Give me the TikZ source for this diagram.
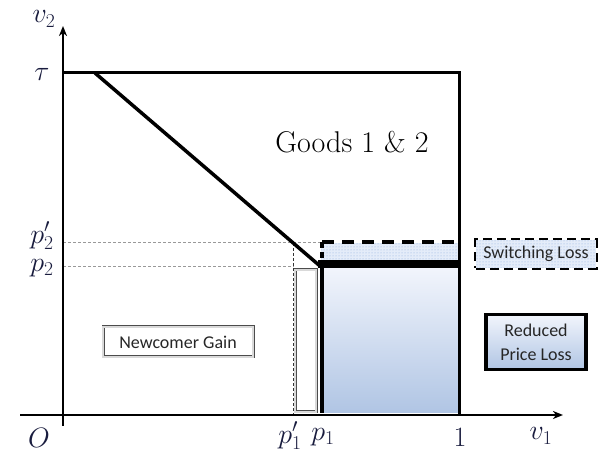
\documentclass[tikz,border=0pt]{standalone}
\usepackage{fix-cm}
\usepackage{fontspec}
\usetikzlibrary{arrows.meta,patterns}
\newfontfamily\calib{Carlito}
\definecolor{labc}{RGB}{25,28,62}
\definecolor{dotc}{RGB}{228,236,249}
\definecolor{dotp}{RGB}{140,172,222}
\definecolor{gtop}{RGB}{242,245,252}
\definecolor{gbot}{RGB}{176,197,228}
\tikzset{
  lab/.style={text=labc, font=\fontsize{28}{32}\selectfont, inner sep=0pt, anchor=center},
  axisline/.style={line width=2pt, -{Stealth[length=10pt,width=8pt,inset=3pt]}},
  frame/.style={line width=3pt},
  guide/.style={draw=gray!80, line width=0.8pt, dash pattern=on 3pt off 2pt},
  guidedark/.style={draw=black!80, line width=0.9pt, dash pattern=on 3pt off 2pt},
  legend/.style={font=\calib\fontsize{18}{20}\selectfont, text=black!85, align=center, inner sep=0pt},
  graybox/.style={draw=gray!60!black, double=gray!30, double distance=1.2pt, line width=0.9pt},
}
\begin{document}
\begin{tikzpicture}[x=1pt,y=-1pt]
\useasboundingbox (0,0) rectangle (598,457);
% named corner coordinates
\coordinate (O) at (63,415);
\coordinate (xend) at (563,415);
\coordinate (xstart) at (20,415);
\coordinate (ystart) at (63,426);
\coordinate (yend) at (63,26);
\coordinate (tauL) at (63,73);
\coordinate (diagA) at (95,73);
\coordinate (TR) at (459,73);
\coordinate (BR) at (459,414);
\coordinate (kink) at (320,266);
% guide lines
\draw[guide] (63,242) -- (322,242);
\draw[guide] (63,266) -- (294,266);
\draw[guidedark] (293,243) -- (293,414);
% newcomer strip
\draw[graybox] (295,270) rectangle (316,412);
% switching loss strip
\fill[dotc] (321,243) rectangle (458,262);
\fill[pattern=dots, pattern color=dotp] (321,243) rectangle (458,262);
\draw[line width=4pt, dash pattern=on 12pt off 8pt] (322,242) -- (458,242);
\draw[line width=3.5pt, dash pattern=on 6pt off 4pt] (322,242) -- (322,262);
% reduced price strip
\shade[top color=gtop, bottom color=gbot] (321,267) rectangle (458,413);
\draw[line width=4pt] (322,266) -- (322,413);
\draw[line width=8pt] (318,264) -- (460,264);
% main frame
\draw[frame] (tauL) -- (TR) -- (BR);
\draw[line width=3.5pt] (diagA) -- (kink);
% axes
\draw[axisline] (xstart) -- (xend);
\draw[axisline] (ystart) -- (yend);
% labels
\node[lab] (v2) at (44,19) {$v_2$};
\node[lab] (tau) at (42,74) {$\tau$};
\node[lab] (p2p) at (42,236) {$p_2'$};
\node[lab] (p2) at (42,268) {$p_2$};
\node[lab] (Olab) at (39,438) {$O$};
\node[lab] (p1p) at (290,436) {$p_1'$};
\node[lab] (p1) at (323,437) {$p_1$};
\node[lab] (one) at (460,437) {$1$};
\node[lab] (v1) at (541,436) {$v_1$};
\node[font=\fontsize{30}{32}\selectfont, inner sep=0pt] (goods) at (352,142) {Goods 1 \& 2};
% legends
\node[legend, graybox, minimum width=150pt, minimum height=30pt] (newc) at (178,342) {Newcomer Gain};
\node[legend, draw=black, line width=4pt, dash pattern=on 9pt off 5pt, minimum width=120pt, minimum height=28pt] (swl) at (536,254) {};
\fill[dotc] ([shift={(2,-2)}]swl.south west) rectangle ([shift={(-2,2)}]swl.north east);
\fill[pattern=dots, pattern color=dotp] ([shift={(2,-2)}]swl.south west) rectangle ([shift={(-2,2)}]swl.north east);
\node[legend] (swlt) at (swl.center) {Switching Loss};
\node[legend, draw=black, line width=3.5pt, top color=gtop, bottom color=gbot, minimum width=100pt, minimum height=55pt, font=\calib\fontsize{18}{24}\selectfont] (rpl) at (536,342) {Reduced\\Price Loss};
\end{tikzpicture}
\end{document}
